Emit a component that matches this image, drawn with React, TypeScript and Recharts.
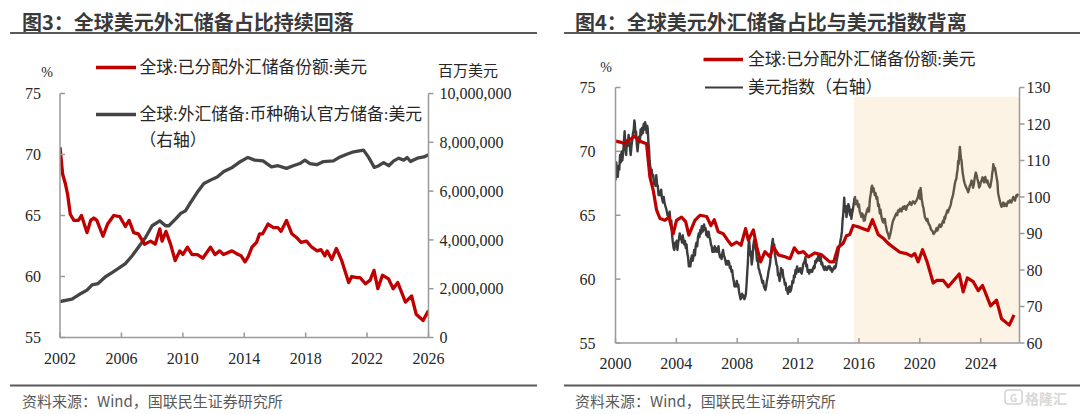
import React from 'react';
import { LineChart, Line, XAxis, YAxis, ReferenceArea } from 'recharts';

type Pt = [number, number];

// ---------- Figure 3 data ----------
const fig3Years = [2002, 2006, 2010, 2014, 2018, 2022, 2026];
const fig3LeftTicks = [55, 60, 65, 70, 75];
const fig3RightTicks = [0, 2000000, 4000000, 6000000, 8000000, 10000000];

// USD share of allocated FX reserves (%)
const fig3Share: Pt[] = [
  [2002.0, 70.6], [2002.17, 68.4], [2002.35, 67.6], [2002.5, 66.7], [2002.67, 65.1], [2002.9, 64.6],
  [2003.2, 64.6], [2003.4, 65.0], [2003.76, 63.6], [2004.0, 64.6], [2004.2, 64.8], [2004.4, 64.6],
  [2004.8, 63.3], [2005.1, 64.3], [2005.5, 65.0], [2005.9, 64.9], [2006.26, 64.1], [2006.5, 64.6],
  [2006.8, 63.6], [2007.1, 63.5], [2007.5, 62.65], [2007.9, 62.9], [2008.2, 62.65], [2008.5, 63.9],
  [2008.65, 62.9], [2008.9, 63.7], [2009.2, 62.65], [2009.5, 61.3], [2009.8, 62.1], [2010.0, 61.8],
  [2010.3, 62.4], [2010.6, 61.8], [2010.95, 61.8], [2011.3, 61.5], [2011.8, 62.4], [2012.1, 61.8],
  [2012.4, 62.1], [2012.65, 61.8], [2013.2, 62.1], [2013.6, 61.8], [2013.8, 61.7], [2014.05, 61.2],
  [2014.25, 61.6], [2014.5, 62.4], [2014.8, 62.8], [2015.0, 63.5], [2015.2, 63.5], [2015.55, 64.3],
  [2015.9, 64.0], [2016.2, 64.0], [2016.4, 63.7], [2016.75, 64.6], [2017.1, 63.5], [2017.4, 63.2],
  [2017.7, 62.8], [2018.05, 62.9], [2018.4, 62.4], [2018.75, 62.1], [2019.0, 62.2], [2019.25, 61.7],
  [2019.4, 62.1], [2019.7, 61.4], [2020.0, 62.3], [2020.35, 61.3], [2020.8, 59.5], [2021.0, 60.0],
  [2021.35, 59.9], [2021.55, 59.9], [2021.9, 59.4], [2022.2, 59.7], [2022.45, 60.5], [2022.7, 59.0],
  [2023.0, 60.1], [2023.4, 59.8], [2023.7, 59.0], [2024.0, 59.5], [2024.25, 58.7], [2024.5, 57.9],
  [2024.9, 58.4], [2025.2, 56.9], [2025.65, 56.4], [2026.0, 57.2],
];

// Currency-identified official reserves: USD (million USD)
const fig3Reserves: Pt[] = [
  [2002.0, 1475000], [2002.78, 1570000], [2003.22, 1750000], [2003.76, 1940000], [2004.09, 2160000],
  [2004.48, 2210000], [2004.96, 2490000], [2005.39, 2660000], [2005.83, 2840000], [2006.26, 3030000],
  [2006.7, 3350000], [2007.13, 3720000], [2007.57, 4100000], [2008.0, 4580000], [2008.5, 4780000],
  [2008.87, 4580000], [2009.09, 4580000], [2009.52, 4850000], [2009.85, 5080000], [2010.17, 5190000],
  [2010.5, 5530000], [2010.93, 5940000], [2011.37, 6310000], [2011.8, 6450000], [2012.24, 6580000],
  [2012.67, 6800000], [2013.22, 6970000], [2013.65, 7170000], [2014.24, 7380000], [2014.68, 7270000],
  [2015.22, 7240000], [2015.77, 6990000], [2016.2, 7040000], [2016.75, 6930000], [2017.19, 7040000],
  [2017.62, 7130000], [2017.95, 7270000], [2018.28, 7130000], [2018.72, 7080000], [2019.16, 7210000],
  [2019.81, 7240000], [2020.24, 7400000], [2020.68, 7510000], [2021.12, 7610000], [2021.77, 7680000],
  [2022.1, 7380000], [2022.47, 6970000], [2022.76, 7040000], [2023.08, 7170000], [2023.41, 7040000],
  [2023.74, 7240000], [2024.07, 7350000], [2024.39, 7270000], [2024.61, 7380000], [2024.83, 7210000],
  [2025.27, 7350000], [2025.7, 7400000], [2026.0, 7490000],
];

// ---------- Figure 4 data ----------
const fig4Years = [2000, 2004, 2008, 2012, 2016, 2020, 2024];
const fig4LeftTicks = [55, 60, 65, 70, 75];
const fig4RightTicks = [60, 70, 80, 90, 100, 110, 120, 130];
const fig4ShadeStart = 2015.66;
const fig4ShadeTop = 127.5;

const fig4Share: Pt[] = [
  [2000.0, 70.8], [2000.39, 70.7], [2000.61, 70.6], [2000.83, 70.85], [2001.05, 71.0], [2001.27, 71.2],
  [2001.49, 70.85], [2001.82, 70.7], [2002.04, 70.6], [2002.26, 68.0], [2002.48, 66.95], [2002.7, 65.4],
  [2002.92, 64.75], [2003.25, 64.6], [2003.51, 64.85], [2003.79, 63.55], [2004.01, 64.6], [2004.34, 64.85],
  [2004.61, 64.5], [2004.82, 63.45], [2005.22, 64.6], [2005.55, 65.0], [2005.99, 64.9], [2006.27, 64.2],
  [2006.49, 64.65], [2006.75, 63.7], [2007.08, 63.55], [2007.37, 63.05], [2007.63, 62.65], [2007.96, 62.9],
  [2008.25, 62.65], [2008.55, 63.95], [2008.73, 63.05], [2009.06, 63.85], [2009.28, 62.55], [2009.54, 61.35],
  [2009.82, 62.15], [2010.15, 61.75], [2010.37, 62.55], [2010.7, 61.9], [2011.14, 61.75], [2011.47, 61.6],
  [2011.75, 62.45], [2012.02, 62.05], [2012.35, 62.15], [2012.68, 61.75], [2013.11, 62.05], [2013.55, 61.9],
  [2013.88, 61.55], [2014.08, 61.35], [2014.34, 61.35], [2014.63, 62.5], [2014.96, 62.8], [2015.18, 63.4],
  [2015.4, 63.5], [2015.62, 64.2], [2015.94, 64.1], [2016.27, 63.95], [2016.6, 63.8], [2016.89, 64.65],
  [2017.26, 63.5], [2017.59, 63.2], [2017.92, 62.8], [2018.25, 62.5], [2018.69, 62.1], [2019.12, 62.0],
  [2019.45, 61.8], [2019.67, 62.0], [2019.89, 61.35], [2020.18, 62.3], [2020.48, 61.35], [2020.88, 59.7],
  [2021.1, 59.9], [2021.54, 59.9], [2021.87, 59.4], [2022.15, 59.8], [2022.59, 60.4], [2022.85, 59.0],
  [2023.12, 60.1], [2023.51, 59.8], [2023.84, 59.1], [2024.12, 59.5], [2024.34, 58.85], [2024.65, 57.9],
  [2025.04, 58.35], [2025.37, 56.9], [2025.88, 56.4], [2026.19, 57.2],
];

// US dollar index (right axis)
const fig4Dxy: Pt[] = [
  [2000.0, 104.5], [2000.05, 109.5], [2000.1, 107], [2000.15, 105.5], [2000.2, 108.5], [2000.25, 107.5],
  [2000.3, 111.5], [2000.35, 109.5], [2000.4, 112.5], [2000.45, 110], [2000.5, 112], [2000.55, 115],
  [2000.6, 118], [2000.65, 114], [2000.7, 111.5], [2000.75, 115.5], [2000.8, 114], [2000.86, 117],
  [2000.92, 115], [2000.96, 113], [2001.0, 111.5], [2001.05, 114], [2001.1, 115.5], [2001.15, 117.5],
  [2001.2, 118.5], [2001.24, 121], [2001.27, 120], [2001.31, 117.5], [2001.35, 118], [2001.4, 114.5],
  [2001.45, 112.5], [2001.5, 115], [2001.55, 116.5], [2001.6, 115], [2001.65, 118.5], [2001.7, 117],
  [2001.75, 119], [2001.8, 117.5], [2001.85, 120], [2001.9, 118.5], [2001.95, 120.5], [2002.0, 119],
  [2002.05, 117.5], [2002.09, 119.5], [2002.12, 118.5], [2002.16, 115], [2002.2, 113.5], [2002.24, 110],
  [2002.28, 108.5], [2002.33, 107], [2002.38, 107.5], [2002.43, 105.5], [2002.48, 106], [2002.53, 103.5],
  [2002.58, 104], [2002.63, 103], [2002.68, 106], [2002.73, 103.5], [2002.78, 103], [2002.83, 100.5],
  [2002.88, 101.5], [2002.94, 100.5], [2003.0, 102], [2003.06, 99.5], [2003.12, 98.5], [2003.17, 100],
  [2003.22, 98.5], [2003.28, 97.5], [2003.35, 96.5], [2003.42, 95], [2003.5, 94.5], [2003.56, 96],
  [2003.62, 92.5], [2003.67, 93.5], [2003.72, 89.5], [2003.77, 87.5], [2003.82, 86], [2003.87, 85.5],
  [2003.92, 87.5], [2003.97, 86.5], [2004.02, 88], [2004.07, 85.5], [2004.12, 87.5], [2004.17, 88.5],
  [2004.22, 90], [2004.27, 88.5], [2004.32, 89], [2004.37, 87.5], [2004.42, 89.5], [2004.47, 88],
  [2004.52, 87], [2004.57, 88], [2004.62, 86], [2004.67, 87], [2004.72, 84.5], [2004.77, 83.5],
  [2004.82, 81], [2004.87, 82], [2004.92, 81], [2004.97, 83], [2005.02, 84], [2005.07, 82.5],
  [2005.12, 83.5], [2005.17, 85.5], [2005.22, 84], [2005.27, 86.5], [2005.32, 87.5], [2005.37, 86.5],
  [2005.42, 89], [2005.47, 90], [2005.52, 89], [2005.57, 91], [2005.62, 90], [2005.67, 92],
  [2005.72, 90.5], [2005.77, 91], [2005.82, 92.5], [2005.87, 91], [2005.92, 91.5], [2005.97, 89.5],
  [2006.02, 90.5], [2006.07, 89], [2006.12, 90.5], [2006.17, 89], [2006.22, 88.5], [2006.27, 87],
  [2006.32, 86.5], [2006.37, 85], [2006.42, 86], [2006.47, 85], [2006.52, 86.5], [2006.57, 85.5],
  [2006.62, 85], [2006.67, 86], [2006.72, 85], [2006.77, 86.5], [2006.82, 84.5], [2006.87, 83.5],
  [2006.92, 84], [2006.97, 83], [2007.02, 84.5], [2007.07, 85.5], [2007.12, 84], [2007.17, 83.5],
  [2007.22, 82.5], [2007.27, 81.5], [2007.32, 82.5], [2007.37, 81.5], [2007.42, 82.5], [2007.47, 82],
  [2007.52, 80.5], [2007.57, 81], [2007.62, 79.5], [2007.67, 80], [2007.72, 78], [2007.77, 77],
  [2007.82, 75.5], [2007.87, 76], [2007.92, 75.5], [2007.97, 77], [2008.02, 75.5], [2008.07, 76],
  [2008.12, 74], [2008.17, 73], [2008.22, 72], [2008.27, 72.5], [2008.32, 73.5], [2008.37, 72.5],
  [2008.42, 73], [2008.47, 72], [2008.52, 72.5], [2008.57, 73.5], [2008.62, 76.5], [2008.66, 79.5],
  [2008.7, 82], [2008.74, 86.5], [2008.78, 88.5], [2008.82, 86], [2008.86, 84], [2008.9, 85],
  [2008.95, 81.5], [2009.0, 83], [2009.05, 86.5], [2009.1, 88], [2009.15, 88.5], [2009.2, 86],
  [2009.25, 85], [2009.3, 82.5], [2009.35, 83], [2009.4, 80.5], [2009.45, 80], [2009.5, 79],
  [2009.55, 78.5], [2009.6, 77.5], [2009.65, 76.5], [2009.7, 77], [2009.75, 75.5], [2009.8, 75],
  [2009.85, 74.5], [2009.9, 75.5], [2009.95, 77], [2010.0, 78], [2010.05, 79.5], [2010.1, 80.5],
  [2010.15, 81.5], [2010.2, 83.5], [2010.25, 86], [2010.3, 87.5], [2010.34, 88.5], [2010.38, 86.5],
  [2010.43, 87], [2010.48, 84], [2010.53, 83], [2010.58, 81.5], [2010.63, 81], [2010.68, 78.5],
  [2010.73, 79], [2010.78, 77], [2010.83, 78], [2010.88, 80.5], [2010.93, 79], [2010.98, 80],
  [2011.03, 78], [2011.08, 77.5], [2011.13, 76], [2011.18, 76.5], [2011.23, 74.5], [2011.28, 75],
  [2011.33, 73.5], [2011.38, 75], [2011.43, 75.5], [2011.48, 74], [2011.53, 74.5], [2011.58, 75.5],
  [2011.63, 77], [2011.68, 76.5], [2011.73, 78.5], [2011.78, 78], [2011.83, 80], [2011.88, 79],
  [2011.93, 81], [2011.98, 80], [2012.03, 79.5], [2012.08, 80], [2012.13, 80.5], [2012.18, 79.5],
  [2012.23, 79], [2012.28, 80], [2012.33, 81.5], [2012.38, 82], [2012.43, 82.5], [2012.48, 83.5],
  [2012.53, 81], [2012.58, 81.5], [2012.63, 79.5], [2012.68, 80], [2012.73, 79], [2012.78, 80],
  [2012.83, 80], [2012.88, 79.5], [2012.93, 79.5], [2012.98, 80.5], [2013.03, 81], [2013.08, 80.5],
  [2013.13, 82.5], [2013.18, 82], [2013.23, 83], [2013.28, 82.5], [2013.33, 84], [2013.38, 83.5],
  [2013.43, 82.5], [2013.48, 84], [2013.53, 81.5], [2013.58, 82], [2013.63, 81], [2013.68, 80.5],
  [2013.73, 80], [2013.78, 81], [2013.83, 80.5], [2013.88, 80], [2013.93, 80.5], [2013.98, 81],
  [2014.03, 80.5], [2014.08, 81], [2014.13, 80], [2014.18, 80.5], [2014.23, 79.5], [2014.28, 80],
  [2014.33, 80.2], [2014.38, 81], [2014.43, 80.5], [2014.48, 81], [2014.53, 82.5], [2014.58, 83.5],
  [2014.63, 84.5], [2014.68, 86], [2014.73, 86.5], [2014.78, 88], [2014.83, 89], [2014.88, 90.5],
  [2014.92, 93.5], [2014.96, 95], [2015.0, 97.5], [2015.03, 99.8], [2015.07, 97], [2015.1, 96],
  [2015.14, 97.5], [2015.18, 94.5], [2015.22, 96], [2015.26, 97], [2015.3, 98], [2015.35, 97.5],
  [2015.39, 95.5], [2015.43, 95], [2015.47, 96.5], [2015.5, 94], [2015.55, 95.5], [2015.6, 96.5],
  [2015.65, 98], [2015.7, 99.5], [2015.74, 100], [2015.78, 98], [2015.82, 98.5], [2015.88, 99],
  [2015.94, 97.3], [2016.0, 98], [2016.05, 96], [2016.1, 95.5], [2016.16, 94.5], [2016.21, 95.5],
  [2016.27, 95], [2016.32, 93.5], [2016.38, 93.6], [2016.43, 95], [2016.48, 95.5], [2016.54, 96.5],
  [2016.6, 97], [2016.66, 96], [2016.72, 99.5], [2016.78, 101], [2016.82, 102.5], [2016.86, 103.1],
  [2016.9, 101.5], [2016.95, 102.5], [2017.0, 101.5], [2017.04, 100.5], [2017.1, 101], [2017.15, 99.5],
  [2017.2, 100], [2017.26, 97.5], [2017.31, 98], [2017.37, 95.5], [2017.42, 96.5], [2017.48, 94.5],
  [2017.54, 93.5], [2017.6, 93], [2017.65, 94], [2017.7, 94], [2017.75, 92.5], [2017.8, 91.5],
  [2017.85, 90.5], [2017.9, 90], [2017.94, 89.5], [2017.98, 88.6], [2018.03, 89.5], [2018.07, 90],
  [2018.12, 91], [2018.16, 92], [2018.21, 93], [2018.25, 93.6], [2018.3, 94], [2018.35, 94.5],
  [2018.4, 95], [2018.45, 95.5], [2018.51, 95], [2018.57, 96.3], [2018.63, 96], [2018.7, 96.8],
  [2018.75, 96.5], [2018.8, 96], [2018.85, 97], [2018.9, 97.3], [2018.95, 96.8], [2019.0, 97.5],
  [2019.05, 96.8], [2019.1, 96.5], [2019.16, 97.5], [2019.22, 97.8], [2019.28, 98], [2019.34, 98.6],
  [2019.4, 98.2], [2019.45, 97.8], [2019.5, 98.5], [2019.56, 98.8], [2019.62, 98.5], [2019.67, 98.2],
  [2019.72, 98.7], [2019.78, 99], [2019.83, 99.5], [2019.88, 100], [2019.92, 101], [2019.96, 101.8],
  [2020.0, 100.5], [2020.02, 99.5], [2020.05, 102.5], [2020.09, 101], [2020.12, 99.5], [2020.16, 98.5],
  [2020.2, 97.5], [2020.24, 97], [2020.27, 96], [2020.3, 95.5], [2020.33, 94.5], [2020.39, 94],
  [2020.45, 93.5], [2020.5, 94], [2020.55, 93], [2020.6, 92.5], [2020.66, 92.2], [2020.7, 91.5],
  [2020.75, 91], [2020.8, 90.8], [2020.85, 90.5], [2020.88, 90], [2020.92, 89.9], [2020.97, 90.3],
  [2021.02, 90.5], [2021.06, 91], [2021.1, 91.5], [2021.15, 90.8], [2021.2, 91.3], [2021.25, 92],
  [2021.3, 92.5], [2021.36, 91.8], [2021.42, 92], [2021.48, 93], [2021.54, 93.6], [2021.58, 93],
  [2021.62, 94.5], [2021.66, 94], [2021.7, 95], [2021.75, 95.5], [2021.8, 96.3], [2021.85, 95.8],
  [2021.9, 96.5], [2021.95, 97], [2022.0, 97.5], [2022.04, 98], [2022.08, 99.1], [2022.13, 99.8],
  [2022.18, 100.5], [2022.24, 102], [2022.3, 103.6], [2022.35, 104.5], [2022.4, 105], [2022.44, 106.5],
  [2022.48, 107.5], [2022.52, 109.9], [2022.55, 109], [2022.58, 111], [2022.61, 112.5], [2022.63, 113.7],
  [2022.66, 112.5], [2022.68, 111.5], [2022.71, 110.5], [2022.74, 109.9], [2022.78, 108], [2022.82, 106.5],
  [2022.86, 105.5], [2022.9, 104.5], [2022.93, 104], [2022.96, 103.6], [2023.01, 103], [2023.06, 102.5],
  [2023.12, 102], [2023.18, 101.3], [2023.23, 102], [2023.28, 103], [2023.34, 103.5], [2023.4, 104.5],
  [2023.45, 103.5], [2023.5, 102.5], [2023.55, 103.5], [2023.6, 105], [2023.64, 106], [2023.68, 106.7],
  [2023.73, 106], [2023.78, 105], [2023.84, 104], [2023.9, 102.6], [2023.95, 103], [2024.0, 104],
  [2024.06, 104.5], [2024.12, 105.4], [2024.17, 104.5], [2024.22, 104], [2024.26, 105], [2024.3, 105.5],
  [2024.35, 104.5], [2024.39, 104], [2024.45, 104.5], [2024.5, 103.5], [2024.55, 103], [2024.6, 102.6],
  [2024.64, 103], [2024.68, 104], [2024.72, 105], [2024.76, 106.5], [2024.8, 107.5], [2024.83, 109],
  [2024.87, 108], [2024.9, 107.5], [2024.94, 108], [2024.98, 107], [2025.02, 106], [2025.06, 105],
  [2025.1, 104], [2025.13, 102], [2025.15, 100.9], [2025.2, 100], [2025.25, 99], [2025.31, 98],
  [2025.37, 97.3], [2025.42, 98], [2025.48, 98.5], [2025.54, 97.5], [2025.6, 98.2], [2025.65, 97.8],
  [2025.7, 97.5], [2025.75, 98.3], [2025.8, 98.8], [2025.86, 98.5], [2025.92, 99.1], [2025.97, 98.8],
  [2026.02, 98.5], [2026.08, 99.3], [2026.14, 100], [2026.2, 99.5], [2026.25, 99], [2026.3, 99.8],
  [2026.35, 100.5], [2026.4, 100.2], [2026.45, 100.9],
];

// ---------- styles ----------
const RED = '#C00000';
const GRAY3 = '#454545';
const GRAY4 = '#3c3c3c';
const AXIS = '#9a9a9a';
const TXT = '#262626';
const SERIF = '"Liberation Serif", "Times New Roman", "Noto Sans CJK SC", serif';
const SANS = '"Noto Sans CJK SC", "Noto Sans", sans-serif';
const NUM_FS = 16;

const rows = (pts: Pt[]) => pts.map(([t, v]) => ({ t, v }));
const fmtThousands = (v: number) => v.toLocaleString('en-US');

const numStyle: React.CSSProperties = { fontFamily: SERIF, fontSize: NUM_FS, fill: TXT };

const makeLeftTick = (gap: number) => (props: any) => {
  const { x, y, payload } = props;
  return (
    <g>
      <line x1={x} y1={y} x2={x + 5} y2={y} stroke={AXIS} strokeWidth={1.5} />
      <text x={x - gap} y={y} dy="0.35em" textAnchor="end" style={numStyle}>
        {payload.value}
      </text>
    </g>
  );
};

const makeRightTick = (gap: number, fmt?: (v: number) => string) => (props: any) => {
  const { x, y, payload } = props;
  return (
    <g>
      <line x1={x} y1={y} x2={x + 5} y2={y} stroke={AXIS} strokeWidth={1.5} />
      <text x={x + gap} y={y} dy="0.35em" textAnchor="start" style={numStyle}>
        {fmt ? fmt(payload.value) : payload.value}
      </text>
    </g>
  );
};

const BottomTick = (props: any) => {
  const { x, y, payload } = props;
  return (
    <g>
      <line x1={x} y1={y} x2={x} y2={y - 5} stroke={AXIS} strokeWidth={1.5} />
      <text x={x} y={y + 20.5} dy="0.35em" textAnchor="middle" style={numStyle}>
        {payload.value}
      </text>
    </g>
  );
};

const axisLine = { stroke: AXIS, strokeWidth: 1.5 };

const Fig3 = () => (
  <LineChart width={540} height={414} margin={{ top: 93.5, right: 0, bottom: 46.5, left: 0 }}>
    <XAxis
      type="number"
      dataKey="t"
      domain={[2002, 2026]}
      ticks={fig3Years}
      interval={0}
      height={30}
      tickSize={0}
      tickMargin={0}
      tickLine={false}
      axisLine={axisLine}
      tick={BottomTick}
      allowDataOverflow
    />
    <YAxis
      yAxisId="L"
      orientation="left"
      width={60}
      domain={[55, 75]}
      ticks={fig3LeftTicks}
      interval={0}
      tickSize={0}
      tickMargin={0}
      tickLine={false}
      axisLine={axisLine}
      tick={makeLeftTick(19)}
      allowDataOverflow
    />
    <YAxis
      yAxisId="R"
      orientation="right"
      width={111.5}
      domain={[0, 10000000]}
      ticks={fig3RightTicks}
      interval={0}
      tickSize={0}
      tickMargin={0}
      tickLine={false}
      axisLine={axisLine}
      tick={makeRightTick(11, fmtThousands)}
      allowDataOverflow
    />
    <Line
      yAxisId="R"
      data={rows(fig3Reserves)}
      dataKey="v"
      type="linear"
      stroke={GRAY3}
      strokeWidth={3.3}
      dot={false}
      isAnimationActive={false}
      strokeLinejoin="round"
    />
    <Line
      yAxisId="L"
      data={rows(fig3Share)}
      dataKey="v"
      type="linear"
      stroke={RED}
      strokeWidth={3.3}
      dot={false}
      isAnimationActive={false}
      strokeLinejoin="round"
    />
  </LineChart>
);

const Fig4 = () => (
  <LineChart width={540} height={414} margin={{ top: 87.5, right: 0, bottom: 41, left: 0 }}>
    <XAxis
      type="number"
      dataKey="t"
      domain={[2000, 2026.55]}
      ticks={fig4Years}
      interval={0}
      height={30}
      tickSize={0}
      tickMargin={0}
      tickLine={false}
      axisLine={axisLine}
      tick={BottomTick}
      allowDataOverflow
    />
    <YAxis
      yAxisId="L"
      orientation="left"
      width={75.5}
      domain={[55, 75]}
      ticks={fig4LeftTicks}
      interval={0}
      tickSize={0}
      tickMargin={0}
      tickLine={false}
      axisLine={axisLine}
      tick={makeLeftTick(20)}
      allowDataOverflow
    />
    <YAxis
      yAxisId="R"
      orientation="right"
      width={60.5}
      domain={[60, 130]}
      ticks={fig4RightTicks}
      interval={0}
      tickSize={0}
      tickMargin={0}
      tickLine={false}
      axisLine={axisLine}
      tick={makeRightTick(7)}
      allowDataOverflow
    />
    <Line
      yAxisId="R"
      data={rows(fig4Dxy)}
      dataKey="v"
      type="linear"
      stroke={GRAY4}
      strokeWidth={2.4}
      dot={false}
      isAnimationActive={false}
      strokeLinejoin="round"
      zIndex={400}
    />
    <ReferenceArea
      yAxisId="R"
      x1={fig4ShadeStart}
      x2={2026.55}
      y1={60}
      y2={fig4ShadeTop}
      fill="#F5C27A"
      fillOpacity={0.2}
      stroke="none"
      ifOverflow="extendDomain"
      zIndex={450}
    />
    <Line
      yAxisId="L"
      data={rows(fig4Share)}
      dataKey="v"
      type="linear"
      stroke={RED}
      strokeWidth={3.2}
      dot={false}
      isAnimationActive={false}
      strokeLinejoin="round"
      zIndex={460}
    />
  </LineChart>
);

const LegendText = ({ x, y, children, size = 16.8 }: any) => (
  <text x={x} y={y} dominantBaseline="central" style={{ fontFamily: SERIF, fontSize: size, fill: TXT }}>
    {children}
  </text>
);

const Overlay = () => (
  <svg
    width={1080}
    height={414}
    style={{ position: 'absolute', left: 0, top: 0, pointerEvents: 'none' }}
  >
    {/* titles */}
    <text x={22} y={21} dominantBaseline="central" style={{ fontFamily: SANS, fontWeight: 700, fontSize: 20, fill: '#3a3a3a' }}>
      图3：全球美元外汇储备占比持续回落
    </text>
    <line x1={10} y1={33} x2={537} y2={33} stroke="#5a5a5a" strokeWidth={2} />
    <text x={575} y={21} dominantBaseline="central" style={{ fontFamily: SANS, fontWeight: 700, fontSize: 20, fill: '#3a3a3a' }}>
      图4：全球美元外汇储备占比与美元指数背离
    </text>
    <line x1={564} y1={33} x2={1080} y2={33} stroke="#5a5a5a" strokeWidth={2} />

    {/* fig3 legend & units */}
    <text x={47} y={72} dominantBaseline="central" textAnchor="middle" style={{ fontFamily: SERIF, fontSize: 14, fill: TXT }}>%</text>
    <line x1={96} y1={67.5} x2={136} y2={67.5} stroke={RED} strokeWidth={3.5} />
    <LegendText x={139.5} y={67.5}>全球:已分配外汇储备份额:美元</LegendText>
    <line x1={96} y1={114.5} x2={136} y2={114.5} stroke={GRAY3} strokeWidth={3.5} />
    <LegendText x={139.5} y={114.5}>全球:外汇储备:币种确认官方储备:美元</LegendText>
    <LegendText x={139.5} y={140.5}>（右轴）</LegendText>
    <text x={438} y={71} dominantBaseline="central" style={{ fontFamily: SERIF, fontSize: 15, fill: TXT }}>百万美元</text>

    {/* fig4 legend & units */}
    <text x={606} y={67} dominantBaseline="central" textAnchor="middle" style={{ fontFamily: SERIF, fontSize: 14, fill: TXT }}>%</text>
    <line x1={703.5} y1={59.5} x2={743} y2={59.5} stroke={RED} strokeWidth={3.5} />
    <LegendText x={748} y={59.5}>全球:已分配外汇储备份额:美元</LegendText>
    <line x1={705} y1={87.5} x2={743} y2={87.5} stroke={GRAY4} strokeWidth={2} />
    <LegendText x={748} y={87.5}>美元指数（右轴）</LegendText>

    {/* footers */}
    <line x1={10} y1={385.5} x2={537} y2={385.5} stroke="#5a5a5a" strokeWidth={2} />
    <text x={22} y={400} dominantBaseline="central" style={{ fontFamily: SANS, fontSize: 15, fill: '#595959' }}>
      资料来源：Wind，国联民生证券研究所
    </text>
    <line x1={564} y1={385.5} x2={1080} y2={385.5} stroke="#5a5a5a" strokeWidth={2} />
    <text x={575} y={400} dominantBaseline="central" style={{ fontFamily: SANS, fontSize: 15, fill: '#595959' }}>
      资料来源：Wind，国联民生证券研究所
    </text>

    {/* watermark */}
    <rect x={1005} y={390} width={17} height={14} rx={3} fill="none" stroke="#d4d4d4" strokeWidth={1.5} />
    <text x={1013.5} y={397.5} dominantBaseline="central" textAnchor="middle" style={{ fontFamily: SANS, fontSize: 10, fontWeight: 700, fill: '#d4d4d4' }}>G</text>
    <text x={1025} y={397.5} dominantBaseline="central" style={{ fontFamily: SANS, fontSize: 14, fontWeight: 700, fill: '#d9d9d9' }}>格隆汇</text>
  </svg>
);

export default function App() {
  return (
    <div
      style={{
        position: 'absolute',
        left: 0,
        top: 0,
        width: 1080,
        height: 414,
        background: '#ffffff',
        overflow: 'hidden',
      }}
    >
      <div style={{ position: 'absolute', left: 0, top: 0, width: 540, height: 414 }}>
        <Fig3 />
      </div>
      <div style={{ position: 'absolute', left: 540, top: 0, width: 540, height: 414 }}>
        <Fig4 />
      </div>
      <Overlay />
    </div>
  );
}
